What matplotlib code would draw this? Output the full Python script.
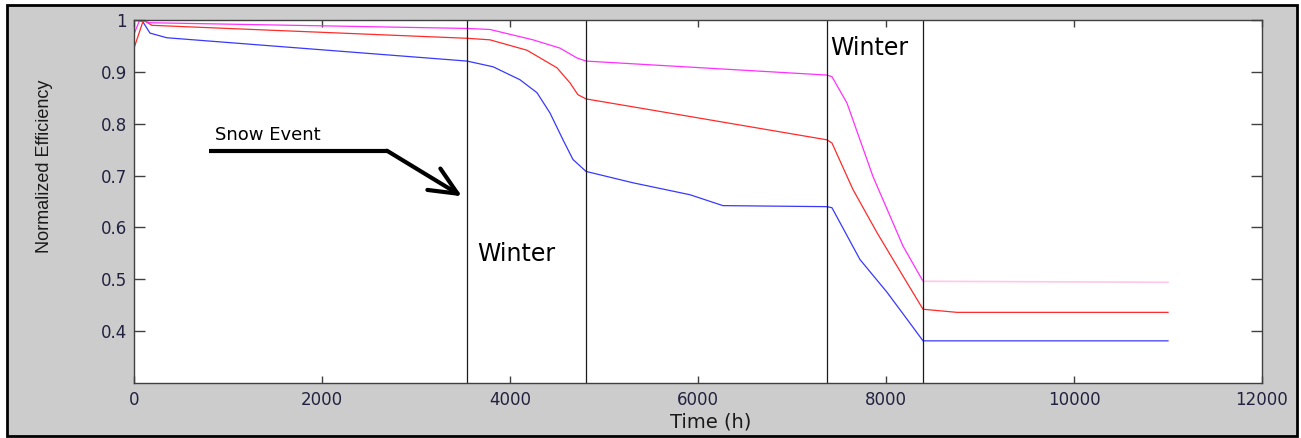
import matplotlib
matplotlib.use('Agg')
import matplotlib.pyplot as plt
from matplotlib.patches import Rectangle

# Efficiency curves (time in hours)
blue_t = [0, 90, 170, 350, 3543, 3820, 4106, 4287, 4425, 4564, 4670, 4809,
          5310, 5915, 6265, 7372, 7425, 7723, 8010, 8223, 8394, 11000]
blue_eff = [1.0, 0.998, 0.975, 0.966, 0.921, 0.910, 0.885, 0.860, 0.821, 0.769, 0.731, 0.708,
            0.686, 0.663, 0.642, 0.640, 0.638, 0.538, 0.475, 0.423, 0.381, 0.381]

red_t = [0, 100, 190, 3543, 3787, 4180, 4500, 4638, 4723, 4809, 5915, 7372,
         7425, 7649, 7904, 8181, 8394, 8755, 11000]
red_eff = [0.946, 1.0, 0.990, 0.965, 0.962, 0.942, 0.908, 0.879, 0.856, 0.848, 0.814, 0.769,
           0.763, 0.673, 0.590, 0.506, 0.442, 0.436, 0.436]

magenta_t = [0, 60, 170, 3543, 3787, 4245, 4532, 4713, 4809, 7372, 7425, 7585,
             7862, 8181, 8394, 11000]
magenta_eff = [0.973, 1.0, 0.995, 0.984, 0.982, 0.962, 0.946, 0.927, 0.921, 0.894, 0.891, 0.840,
               0.698, 0.564, 0.496, 0.494]

# Season boundaries (vertical lines)
season_lines = [3543, 4809, 7372, 8394]

# Hand-drawn arrow for the snow event
snow_line_x = [798, 2691]
snow_line_y = [0.748, 0.748]
snow_tip = (3489, 0.660)

x_ticks = [0, 2000, 4000, 6000, 8000, 10000, 12000]
y_ticks = [0.4, 0.5, 0.6, 0.7, 0.8, 0.9, 1.0]
y_ticklabels = ['0.4', '0.5', '0.6', '0.7', '0.8', '0.9', '1']

fig = plt.figure(figsize=(13.01, 4.38), dpi=100, facecolor='white')
# grey panel with black frame, like the MATLAB window
fig.patches.append(Rectangle((0.005, 0.005), 0.992, 0.983, transform=fig.transFigure,
                             facecolor='#cccccc', edgecolor='black', linewidth=2, zorder=-1))

ax = fig.add_axes([0.103, 0.126, 0.867, 0.828])
ax.set_facecolor('white')

ax.plot(blue_t, blue_eff, color='#3838ff', linewidth=0.9)
ax.plot(red_t, red_eff, color='#ff2a2a', linewidth=0.9)
ax.plot(magenta_t[:-1], magenta_eff[:-1], color='#ff30ff', linewidth=0.9)
ax.plot(magenta_t[-2:], magenta_eff[-2:], color='#ffc8e6', linewidth=1.2)

for xv in season_lines:
    ax.axvline(xv, color='#1a1a1a', linewidth=0.9)

# Snow event annotation
ax.plot(snow_line_x, snow_line_y, color='black', linewidth=3, solid_capstyle='butt')
ax.annotate('', xy=snow_tip, xytext=(snow_line_x[-1], snow_line_y[-1]),
            arrowprops=dict(arrowstyle='->,head_length=2.0,head_width=0.9',
                            color='black', linewidth=3, shrinkA=0, shrinkB=0))
ax.text(862, 0.779, 'Snow Event', fontsize=13, va='center', ha='left', color='black')

ax.text(3649, 0.548, 'Winter', fontsize=17, va='center', ha='left', color='black')
ax.text(7404, 0.946, 'Winter', fontsize=17, va='center', ha='left', color='black')

ax.set_xlim(0, 12000)
ax.set_ylim(0.3, 1.0)
ax.set_xticks(x_ticks)
ax.set_yticks(y_ticks)
ax.set_yticklabels(y_ticklabels)

ax.tick_params(axis='both', direction='in', top=True, right=True, colors='#404040',
               labelcolor='#222240', labelsize=12, width=1)
ax.tick_params(axis='x', length=5, pad=6)
ax.tick_params(axis='y', length=8, pad=5)
for s in ax.spines.values():
    s.set_color('#404040')
    s.set_linewidth(1)

ax.set_xlabel('Time (h)', fontsize=14, color='#1a1a1a', va='center')
ax.xaxis.set_label_coords(0.511, -0.107)
ax.set_ylabel('Normalized Efficiency', fontsize=13, family='Liberation Sans',
              color='#1a1a1a', va='center')
ax.yaxis.set_label_coords(-0.079, 0.598)

fig.savefig('out.png', dpi=100, facecolor=fig.get_facecolor())
